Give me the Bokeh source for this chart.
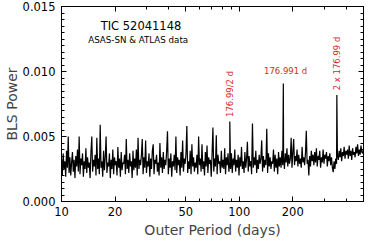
import numpy as np
from bokeh.plotting import figure
from bokeh.models import (LogAxis, LinearAxis, FixedTicker, Label, PrintfTickFormatter, Range1d,
                          CustomLabelingPolicy)
from bokeh.embed import file_html
from bokeh.resources import INLINE

# BLS power (units of 1e-3) on the trial-period grid 10 .. 500 d (log spaced)
power_e3 = [
    3.3, 2.0, 3.7, 2.5, 3.1, 1.9, 3.9, 2.6, 5.0, 2.2, 3.4, 2.0, 3.0, 3.8, 2.3, 3.2, 1.8, 3.5, 2.7, 4.0,
    2.3, 5.0, 2.1, 3.3, 2.8, 3.7, 1.9, 3.1, 2.5, 4.1, 2.2, 3.4, 2.6, 3.0, 1.8, 3.8, 5.0, 2.3, 3.2, 2.7,
    3.6, 2.0, 4.9, 2.5, 3.3, 2.1, 5.9, 2.6, 3.1, 1.9, 3.9, 2.4, 3.4, 5.0, 2.2, 3.0, 2.7, 3.7, 1.8, 3.2,
    2.5, 4.0, 2.1, 3.4, 2.8, 3.1, 2.0, 4.2, 2.6, 3.3, 1.9, 3.8, 2.4, 3.0, 2.9, 3.6, 2.1, 4.8, 2.5, 3.2,
    2.2, 3.7, 2.7, 3.1, 1.8, 3.9, 2.4, 3.3, 2.6, 4.0, 2.0, 4.9, 2.5, 3.2, 2.8, 3.6, 4.8, 2.1, 3.4, 2.6,
    4.7, 2.2, 3.1, 2.7, 3.7, 1.9, 3.3, 2.5, 3.9, 4.4, 2.1, 3.2, 2.9, 3.6, 2.3, 3.0, 2.0, 4.5, 2.6, 3.4,
    2.2, 3.8, 2.5, 3.2, 2.8, 3.9, 5.4, 2.1, 3.3, 2.6, 3.7, 1.9, 3.1, 2.7, 3.6, 2.4, 5.0, 2.2, 3.4, 2.8,
    3.2, 2.0, 3.8, 2.6, 4.7, 2.3, 3.3, 2.9, 3.7, 5.8, 2.2, 3.1, 2.5, 3.9, 2.1, 4.4, 2.7, 3.4, 2.3, 3.0,
    2.6, 3.6, 2.1, 5.0, 2.8, 3.3, 2.3, 4.4, 2.5, 3.1, 2.0, 3.8, 2.7, 4.3, 2.2, 3.4, 2.9, 3.2, 1.9, 3.7,
    5.7, 2.3, 3.3, 2.7, 5.1, 2.1, 3.6, 2.9, 3.1, 2.2, 3.9, 2.6, 3.2, 2.5, 4.1, 2.1, 3.4, 2.8, 3.7, 2.3,
    3.0, 2.5, 3.7, 2.2, 3.3, 2.8, 4.0, 2.3, 3.2, 2.6, 3.6, 2.0, 3.4, 2.7, 4.2, 2.5, 3.1, 2.2, 3.8, 2.6,
    3.3, 4.6, 2.3, 3.5, 2.7, 3.1, 2.1, 6.0, 2.6, 3.4, 2.8, 3.9, 2.2, 3.2, 2.5, 3.6, 2.9, 3.3, 4.7, 2.3,
    3.5, 2.6, 3.2, 2.8, 5.6, 2.2, 3.7, 2.7, 3.4, 2.5, 3.1, 2.9, 4.0, 2.3, 3.6, 2.6, 3.3, 2.1, 3.8, 2.7,
    3.4, 2.6, 3.9, 2.8, 3.5, 2.5, 3.7, 3.0, 4.1, 2.7, 3.6, 2.9, 3.3, 4.9, 2.6, 3.8, 4.8, 2.8, 3.5, 3.1,
    4.0, 2.7, 3.6, 2.9, 3.3, 2.6, 4.2, 3.0, 3.4, 2.8, 3.7, 5.45, 2.9, 3.2, 2.0, 3.5, 2.7, 3.9, 3.1, 3.6,
    2.8, 3.8, 3.0, 4.1, 2.7, 3.5, 3.2, 3.9, 2.6, 3.4, 3.0, 4.0, 2.9, 3.6, 3.3, 3.8, 2.7, 3.5, 3.1, 3.7,
    2.8, 3.4, 2.6, 2.25, 3.1, 2.5, 3.3, 2.9, 3.6, 3.2, 3.9, 3.4, 4.1, 3.1, 3.8, 3.5, 4.2, 3.3, 3.9, 3.6,
    4.0, 3.3, 4.3, 3.5, 3.9, 3.2, 4.1, 3.6, 3.8, 3.4, 4.2, 3.7, 4.4, 3.5, 4.0, 3.6, 4.3, 3.8, 3.7, 4.0,
]
period_min, period_max = 10.0, 500.0

# labelled peaks
peak_periods = [88.496, 176.991, 353.982]
peak_power = [0.00615, 0.00908, 0.00820]
peak_labels = ["176.99/2 d", "176.991 d", "2 x 176.99 d"]

x_ticks = [10, 20, 50, 100, 200]
x_minor = [30, 40, 60, 70, 80, 90, 300, 400]
y_ticks = [0.0, 0.005, 0.010, 0.015]
y_minor = [k * 0.0005 for k in range(31)]

periods = np.geomspace(period_min, period_max, len(power_e3))
P = np.concatenate([periods, np.array(peak_periods)])
Y = np.concatenate([np.array(power_e3) * 1e-3, np.array(peak_power)])
order = np.argsort(P)
P, Y = P[order], Y[order]

FONT = "DejaVu Sans"

p = figure(width=366, height=240, x_axis_type="log",
           x_range=Range1d(period_min, period_max), y_range=Range1d(0.0, 0.015),
           output_backend="svg", toolbar_location=None,
           min_border_left=54, min_border_right=3, min_border_top=6, min_border_bottom=36)
p.grid.visible = False
p.outline_line_color = "black"
p.outline_line_width = 1
p.background_fill_color = "white"
p.border_fill_color = "white"

p.line(P, Y, line_color="black", line_width=1.2)


def style(ax, labels=True):
    ax.axis_line_color = "black"
    ax.major_tick_in = 5
    ax.major_tick_out = 0
    ax.minor_tick_in = 3
    ax.minor_tick_out = 0
    ax.major_tick_line_color = "black"
    ax.minor_tick_line_color = "black"
    if labels:
        ax.major_label_text_font = FONT
        ax.major_label_text_font_size = "11.5px"
        ax.major_label_text_color = "black"
    else:
        ax.major_label_policy = CustomLabelingPolicy(code="")
        ax.major_label_text_font_size = "0px"
        ax.major_label_standoff = 0


xa = p.xaxis[0]
xa.ticker = FixedTicker(ticks=x_ticks, minor_ticks=x_minor)
style(xa)
xa.major_label_standoff = 5
xa.axis_label = "Outer Period (days)"
xa.axis_label_text_font = FONT
xa.axis_label_text_font_size = "14px"
xa.axis_label_text_font_style = "normal"
xa.axis_label_standoff = 3
xa.major_label_overrides = {t: str(t) for t in x_ticks}

ya = p.yaxis[0]
ya.ticker = FixedTicker(ticks=y_ticks, minor_ticks=y_minor)
ya.formatter = PrintfTickFormatter(format="%.3f")
style(ya)
ya.major_label_standoff = 6
ya.axis_label = "BLS Power"
ya.axis_label_text_font = FONT
ya.axis_label_text_font_size = "14px"
ya.axis_label_text_font_style = "normal"
ya.axis_label_standoff = 0

top = LogAxis(ticker=FixedTicker(ticks=x_ticks, minor_ticks=x_minor))
style(top, labels=False)
p.add_layout(top, "above")
right = LinearAxis(ticker=FixedTicker(ticks=y_ticks, minor_ticks=y_minor))
style(right, labels=False)
p.add_layout(right, "right")

p.add_layout(Label(x=28.0, y=0.0135, text="TIC 52041148", text_align="center",
                   text_baseline="middle", text_font=FONT, text_font_size="11.5px",
                   text_color="black"))
p.add_layout(Label(x=27.0, y=0.01245, text="ASAS-SN & ATLAS data", text_align="center",
                   text_baseline="middle", text_font=FONT, text_font_size="8.7px",
                   text_color="black"))

RED = "#d42a2a"
p.add_layout(Label(x=peak_periods[1] * 1.03, y=0.01005, text=peak_labels[1], text_align="center",
                   text_baseline="middle", text_font=FONT, text_font_size="8.5px",
                   text_color=RED))
p.add_layout(Label(x=peak_periods[0], y=0.0065, text=peak_labels[0], angle=np.pi / 2,
                   text_align="left", text_baseline="middle", text_font=FONT,
                   text_font_size="8.5px", text_color=RED))
p.add_layout(Label(x=peak_periods[2], y=0.00855, text=peak_labels[2], angle=np.pi / 2,
                   text_align="left", text_baseline="middle", text_font=FONT,
                   text_font_size="8.5px", text_color=RED))

open("out.html", "w").write(file_html(p, INLINE))
